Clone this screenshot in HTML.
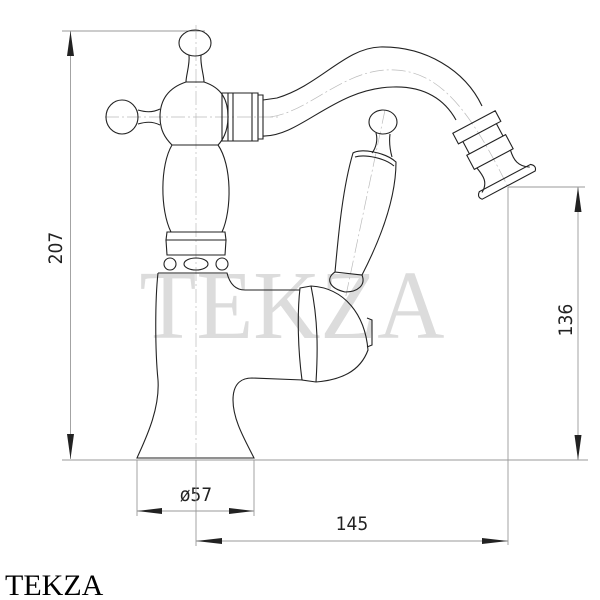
<!DOCTYPE html>
<html><head><meta charset="utf-8"><style>
html,body{margin:0;padding:0;background:#fff;}
svg{display:block;}
.o{fill:none;stroke:#222;stroke-width:1.1;}
.d{fill:none;stroke:#999;stroke-width:0.9;}
.c{fill:none;stroke:#bbb;stroke-width:0.7;stroke-dasharray:14 3 2 3;}
.t{font-family:"Liberation Sans Narrow","DejaVu Sans Condensed","Liberation Sans",sans-serif;font-size:19px;fill:#222;}
</style></head><body>
<svg width="600" height="600" viewBox="0 0 600 600">
<!-- watermark -->
<text x="292" y="338" text-anchor="middle" font-family="Liberation Serif,serif" font-size="98" fill="#dcdcdc" textLength="305" lengthAdjust="spacingAndGlyphs">TEKZA</text>

<!-- dimension lines -->
<line class="d" x1="62" y1="31" x2="205" y2="31"/>
<line class="d" x1="70.5" y1="31" x2="70.5" y2="459"/>
<polygon points="70.5,31 67,56 74,56" fill="#222"/>
<polygon points="70.5,459 67,434 74,434" fill="#222"/>
<text class="t" transform="translate(62,248) rotate(-90)" text-anchor="middle">207</text>

<line class="d" x1="62" y1="460" x2="588" y2="460"/>
<line class="d" x1="508" y1="187" x2="585" y2="187"/>
<line class="d" x1="578" y1="187" x2="578" y2="460"/>
<polygon points="578,187 574.5,212 581.5,212" fill="#222"/>
<polygon points="578,460 574.5,435 581.5,435" fill="#222"/>
<text class="t" transform="translate(572,320) rotate(-90)" text-anchor="middle">136</text>

<line class="d" x1="508" y1="187" x2="508" y2="545"/>
<line class="d" x1="137" y1="460" x2="137" y2="516"/>
<line class="d" x1="254" y1="460" x2="254" y2="516"/>
<line class="d" x1="137" y1="511" x2="254" y2="511"/>
<polygon points="137,511 162,508 162,514" fill="#222"/>
<polygon points="254,511 229,508 229,514" fill="#222"/>
<text class="t" x="196" y="501" text-anchor="middle">ø57</text>
<line class="d" x1="196" y1="460" x2="196" y2="546"/>
<line class="d" x1="196" y1="541" x2="508" y2="541"/>
<polygon points="196,541 222,538 222,544" fill="#222"/>
<polygon points="508,541 482,538 482,544" fill="#222"/>
<text class="t" x="352" y="530" text-anchor="middle">145</text>

<!-- center lines -->
<line class="c" x1="196" y1="25" x2="196" y2="460"/>
<line class="c" x1="105" y1="117" x2="280" y2="117"/>
<path class="c" d="M270,117 C310,112 345,67 395,70 C440,72 470,110 508,187"/>
<line class="c" x1="385" y1="110" x2="345" y2="300"/>

<!-- top knob -->
<ellipse class="o" cx="195" cy="43" rx="16" ry="13"/>
<path class="o" d="M189,55 C190,65 186,75 186,82 M201,55 C200,65 204,75 204,82"/>
<!-- left knob -->
<ellipse class="o" cx="122" cy="117" rx="16" ry="17"/>
<path class="o" d="M138,110 C145,112 152,113 160,109 M138,124 C145,122 152,121 160,125"/>
<!-- ball -->
<path class="o" d="M186,82 L204,82 C222,88 228,100 228,117 C228,132 222,141 218,145 L172,145 C165,138 160,130 160,117 C160,100 168,88 186,82 Z"/>
<!-- rings -->
<path class="o" d="M222,93 L258,93 L258,141 L222,141 Z M228,93 L228,141 M233,93 L233,141 M252,93 L252,141 M258,95 L263,95 L263,139 L258,139"/>
<!-- spout -->
<path class="o" d="M263,100 L277,98 C320,85 345,48 380,47 C425,46 465,70 482,106"/>
<path class="o" d="M263,136 C300,137 335,88 393,87 C425,86 445,100 456,120"/>
<!-- nozzle -->
<g transform="translate(474,122) rotate(-28)">
<path class="o" d="M-24,0 L24,0 L24,12 L-24,12 Z M-19,12 L19,12 L19,26 L-19,26 Z M-22,26 L22,26 L22,42 L-22,42 Z M-19,42 C-17,52 -16,60 -26,66 M19,42 C17,52 18,60 28,66 M-28,64 Q-33,68 -29,72 L31,72 Q35,68 30,64 Z"/>
</g>
<!-- ceramic column -->
<path class="o" d="M172,145 L218,145 C232,165 232,210 222,232 L171,232 C160,210 160,165 172,145 Z"/>
<!-- collar -->
<path class="o" d="M167,232 L225,232 L226,240 L166,240 Z M166,240 L226,240 L225,255 L167,255 Z"/>
<!-- beads -->
<circle class="o" cx="170" cy="264" r="6"/>
<circle class="o" cx="222" cy="264" r="6"/>
<ellipse class="o" cx="196" cy="264" rx="12" ry="6"/>
<!-- base body -->
<path class="o" d="M158,273 L227,273 C230,285 236,290 245,290 L300,290 M158,273 C155,300 155,350 158,380 C160,410 145,440 137,458 L254,458 C245,440 233,420 233,400 C233,385 240,378 252,378 L303,380"/>
<!-- cap -->
<path class="o" d="M300,288 L311,286 C345,288 365,315 368,350 C360,372 340,380 316,382 L302,380 C298,350 297,315 300,288 Z M311,286 C318,320 318,350 316,382"/>
<path class="o" d="M367,318 L372,320 L372,345 L367,347"/>
<!-- lever -->
<ellipse class="o" cx="383" cy="122" rx="14" ry="12"/>
<path class="o" d="M376,133 C378,140 376,148 372,153 M390,134 C389,142 390,150 392,157"/>
<path class="o" d="M353,153 C360,148 385,152 396,162 C396,200 380,240 362,275 L335,272 C338,240 342,190 353,153 Z M355,157 C365,154 385,158 394,166"/>
<path class="o" d="M335,272 C326,278 328,288 345,292 C358,292 366,285 362,275"/>
<!-- bottom brand -->
<text x="5" y="595" font-family="Liberation Serif,serif" font-size="30" fill="#000">TEKZA</text>
</svg>
</body></html>
